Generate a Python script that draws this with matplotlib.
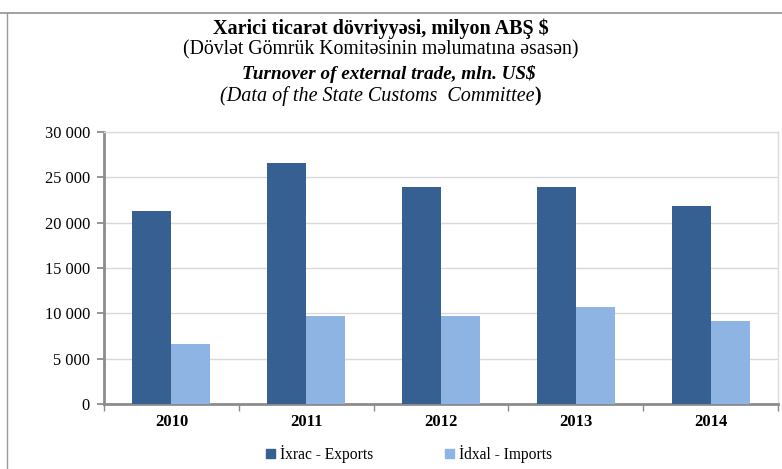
import matplotlib
matplotlib.use("Agg")
import matplotlib.pyplot as plt
import numpy as np
from matplotlib.lines import Line2D
from matplotlib.patches import Patch

years = ["2010", "2011", "2012", "2013", "2014"]
exports = [21278.6, 26570.9, 23908.0, 23975.4, 21828.6]
imports = [6600.6, 9756.0, 9652.9, 10712.5, 9187.7]
yticks = [0, 5000, 10000, 15000, 20000, 25000, 30000]
ytick_labels = ["0", "5 000", "10 000", "15 000", "20 000", "25 000", "30 000"]
series_names = ["İxrac - Exports", "İdxal - Imports"]

c_exp = "#366092"
c_imp = "#8EB4E3"

plt.rcParams['font.family'] = ['Liberation Serif', 'DejaVu Serif']

fig = plt.figure(figsize=(7.82, 4.69), dpi=100)
W, H = 782, 469

# outer frame lines (top and left)
fig.add_artist(Line2D([0, 1], [1 - 13 / H, 1 - 13 / H], color="#9a9a9a", lw=1.3, transform=fig.transFigure))
fig.add_artist(Line2D([7 / W, 7 / W], [0, 1 - 13 / H], color="#9a9a9a", lw=1.0, transform=fig.transFigure))

ax = fig.add_axes([104 / W, 1 - 404 / H, (778 - 104) / W, (404 - 132) / H])
x = np.arange(len(years))
bw = 0.29
ax.bar(x - bw / 2, exports, bw, color=c_exp, zorder=3)
ax.bar(x + bw / 2, imports, bw, color=c_imp, zorder=3)

ax.set_xlim(-0.5, len(years) - 0.5)
ax.set_ylim(0, 30000)
ax.set_yticks(yticks)
ax.set_yticklabels(ytick_labels, fontsize=11.8)
ax.set_xticks(x)
ax.set_xticklabels(years, fontsize=12, fontweight='bold')
ax.tick_params(axis='x', length=0, pad=7)
ax.tick_params(axis='y', length=5, color="#8c8c8c", width=1.3, pad=5)
# category boundary ticks
ax.set_xticks(np.arange(-0.5, len(years) + 0.5, 1.0), minor=True)
ax.tick_params(axis='x', which='minor', length=5, color="#8c8c8c", width=1.0)
ax.grid(axis='y', color="#d9d9d9", lw=1.0, zorder=0)

for s in ['top', 'right']:
    ax.spines[s].set_color("#dcdcdc")
    ax.spines[s].set_linewidth(1.0)
for s in ['left', 'bottom']:
    ax.spines[s].set_color("#8c8c8c")
    ax.spines[s].set_linewidth(2.0)

cx = 381 / W
fig.text(cx, 1 - 34 / H, "Xarici ticarət dövriyyəsi, milyon ABŞ $", ha='center', va='baseline',
         fontsize=14.5, fontweight='bold')
fig.text(cx, 1 - 54 / H, "(Dövlət Gömrük Komitəsinin məlumatına əsasən)", ha='center', va='baseline',
         fontsize=14.2)
fig.text(389 / W, 1 - 79 / H, "Turnover of external trade, mln. US$", ha='center', va='baseline',
         fontsize=13.8, fontweight='bold', style='italic')

# last line: italic part + bold ")"
renderer = fig.canvas.get_renderer()
t1 = fig.text(0, 1 - 101 / H, "(Data of the State Customs  Committee", ha='left', va='baseline',
              fontsize=14.5, style='italic')
t2 = fig.text(0, 1 - 101 / H, ")", ha='left', va='baseline', fontsize=14.5, fontweight='bold')
w1 = t1.get_window_extent(renderer).width / W
w2 = t2.get_window_extent(renderer).width / W
start = cx - (w1 + w2) / 2
t1.set_x(start)
t2.set_x(start + w1 - 1 / W)

handles = [Patch(color=c_exp), Patch(color=c_imp)]
fig.legend(handles, series_names, loc='center', bbox_to_anchor=(409 / W, 1 - 454 / H), ncol=2,
           frameon=False, fontsize=11.2, handlelength=0.6, handleheight=0.6, handletextpad=0.3,
           columnspacing=4.6)

fig.savefig("out.png", dpi=100)
